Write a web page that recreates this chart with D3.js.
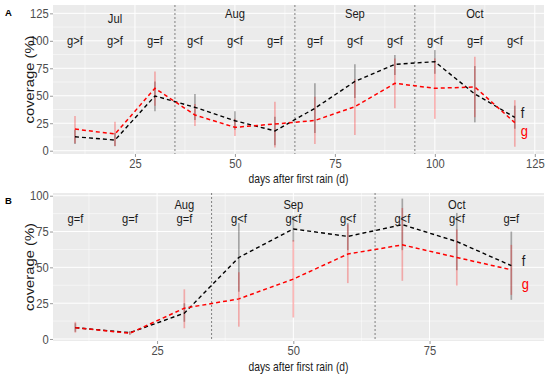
<!DOCTYPE html>
<html>
<head>
<meta charset="utf-8">
<script src="https://cdn.jsdelivr.net/npm/d3@7"></script>
<style>
  body { margin: 0; background: #fff; }
  svg { font-family: "Liberation Sans", Arial, sans-serif; }
</style>
</head>
<body>
<svg id="chart" width="550" height="380"></svg>
<script>
// panel A data
var daysA = [10, 20, 30, 40, 50, 60, 70, 80, 90, 100, 110, 120];
var fA    = [12.7, 9.7, 49.8, 39.5, 27.3, 18, 38.6, 63, 78.6, 81, 51.6, 30.4];
var gA    = [19.7, 15.2, 56.8, 32.5, 21.3, 24.3, 27.5, 40, 61.3, 56.8, 58, 25.5];
var fLoA  = [6, 4, 36, 28, 19, 5, 16, 48, 69, 70, 25.8, 20];
var fHiA  = [19, 16, 63, 51.6, 36, 31, 61.3, 78.6, 87, 91.6, 77, 41];
var gLoA  = [6.7, 4.3, 41, 22.5, 13.4, 3, 6.1, 14.3, 38.6, 29, 30.5, 3.6];
var gHiA  = [31.6, 26.4, 72, 42.5, 29, 44.6, 49, 65, 84, 84, 85.5, 46];
var sigA  = ["g>f", "g>f", "g=f", "g<f", "g<f", "g=f", "g=f", "g<f", "g<f", "g<f", "g=f", "g<f"];
var monthA    = ["Jul", "Aug", "Sep", "Oct"];
var monthDayA = [20, 50, 80, 110];
var monthLvlA = [120.5, 125, 125, 125];
var breaksA   = [35, 65, 95];
var yTicksA   = [0, 25, 50, 75, 100, 125];
var xTicksA   = [25, 50, 75, 100, 125];

// panel B data
var daysB = [10, 20, 30, 40, 50, 60, 70, 80, 90];
var fB    = [7.9, 4.4, 18, 56.9, 76.8, 71.6, 79.8, 68, 51.2];
var gB    = [7.9, 4, 21.5, 28, 41.8, 59.3, 65.7, 56.9, 48.3];
var fLoB  = [5, 3, 12, 33, 68, 62, 62, 48, 27.3];
var fHiB  = [11, 5.5, 25, 81, 86, 81, 98, 88, 75];
var gLoB  = [4.4, 3, 7.5, 8.6, 15, 39, 40.6, 37.3, 30.8];
var gHiB  = [12, 5, 34.7, 46.6, 69, 80, 91.4, 76.5, 65.7];
var sigB  = ["g=f", "g=f", "g=f", "g<f", "g<f", "g<f", "g<f", "g<f", "g=f"];
var monthB    = ["Aug", "Sep", "Oct"];
var monthDayB = [30, 50, 80];
var monthLvlB = [94.2, 94.2, 94.2];
var breaksB   = [35, 65];
var yTicksB   = [0, 25, 50, 75, 100];
var xTicksB   = [25, 50, 75];

var svg = d3.select('#chart');
var SQ = 0.86; // horizontal squeeze of the source image text

function squeezed(sel, x, y) {
  return sel.attr('transform', 'translate(' + x + ',' + y + ') scale(' + SQ + ',1)');
}

function drawPanel(p) {
  var x = d3.scaleLinear().domain(p.xDom).range([p.left, p.right]);
  var y = d3.scaleLinear().domain(p.yDom).range([p.bottom, p.top]);
  var g = svg.append('g');

  // panel background + grid
  g.append('rect').attr('x', p.left).attr('y', p.top)
    .attr('width', p.right - p.left).attr('height', p.bottom - p.top)
    .attr('fill', '#EBEBEB');
  var yMinor = p.yTicks.slice(1).map(function(t) { return t - 12.5; });
  var xMinor = [0].concat(p.xTicks).map(function(t) { return t - 12.5; })
    .filter(function(t) { return t > p.xDom[0] && t < p.xDom[1]; });
  g.selectAll('.ymin').data(yMinor).enter().append('line')
    .attr('x1', p.left).attr('x2', p.right)
    .attr('y1', function(d) { return y(d); }).attr('y2', function(d) { return y(d); })
    .attr('stroke', '#fff').attr('stroke-width', 0.5);
  g.selectAll('.xmin').data(xMinor).enter().append('line')
    .attr('y1', p.top).attr('y2', p.bottom)
    .attr('x1', function(d) { return x(d); }).attr('x2', function(d) { return x(d); })
    .attr('stroke', '#fff').attr('stroke-width', 0.5);
  g.selectAll('.ymaj').data(p.yTicks).enter().append('line')
    .attr('x1', p.left).attr('x2', p.right)
    .attr('y1', function(d) { return y(d); }).attr('y2', function(d) { return y(d); })
    .attr('stroke', '#fff').attr('stroke-width', 1);
  g.selectAll('.xmaj').data(p.xTicks).enter().append('line')
    .attr('y1', p.top).attr('y2', p.bottom)
    .attr('x1', function(d) { return x(d); }).attr('x2', function(d) { return x(d); })
    .attr('stroke', '#fff').attr('stroke-width', 1);

  // month boundaries
  g.selectAll('.brk').data(p.breaks).enter().append('line')
    .attr('y1', p.top).attr('y2', p.bottom)
    .attr('x1', function(d) { return x(d); }).attr('x2', function(d) { return x(d); })
    .attr('stroke', '#7f7f7f').attr('stroke-width', 1).attr('stroke-dasharray', '2,2');

  // axes
  var ax = g.append('g').attr('transform', 'translate(' + p.left + ',0)')
    .call(d3.axisLeft(y).tickValues(p.yTicks).tickSize(3).tickPadding(2));
  var bx = g.append('g').attr('transform', 'translate(0,' + p.bottom + ')')
    .call(d3.axisBottom(x).tickValues(p.xTicks).tickSize(3).tickPadding(2));
  [ax, bx].forEach(function(a) {
    a.select('.domain').remove();
    a.selectAll('.tick line').attr('stroke', '#555').attr('stroke-width', 0.6);
    a.selectAll('.tick text').attr('fill', '#4D4D4D')
      .style('font-size', '13px').attr('transform', 'scale(' + SQ + ',1)');
  });

  // error bars: f first, g on top
  var idx = d3.range(p.days.length);
  g.selectAll('.ef').data(idx).enter().append('line')
    .attr('x1', function(i) { return x(p.days[i]); }).attr('x2', function(i) { return x(p.days[i]); })
    .attr('y1', function(i) { return y(p.fLo[i]); }).attr('y2', function(i) { return y(p.fHi[i]); })
    .attr('stroke', '#000').attr('stroke-opacity', 0.3).attr('stroke-width', 1.7);
  g.selectAll('.eg').data(idx).enter().append('line')
    .attr('x1', function(i) { return x(p.days[i]); }).attr('x2', function(i) { return x(p.days[i]); })
    .attr('y1', function(i) { return y(p.gLo[i]); }).attr('y2', function(i) { return y(p.gHi[i]); })
    .attr('stroke', '#ff0000').attr('stroke-opacity', 0.28).attr('stroke-width', 1.7);

  // mean lines
  var line = d3.line().x(function(i) { return x(p.days[i]); });
  g.append('path').datum(idx)
    .attr('d', line.y(function(i) { return y(p.f[i]); }))
    .attr('fill', 'none').attr('stroke', '#000').attr('stroke-width', 1.4)
    .attr('stroke-dasharray', '4,3');
  g.append('path').datum(idx)
    .attr('d', line.y(function(i) { return y(p.g[i]); }))
    .attr('fill', 'none').attr('stroke', '#ff0000').attr('stroke-width', 1.5)
    .attr('stroke-dasharray', '4,3');

  // comparison + month labels
  g.selectAll('.sig').data(idx).enter().append('text')
    .text(function(i) { return p.sig[i]; })
    .attr('text-anchor', 'middle').attr('dy', '0.35em')
    .style('font-size', '13px').attr('fill', '#1a1a1a')
    .each(function(i) { squeezed(d3.select(this), x(p.days[i]), y(p.sigLvl)); });
  g.selectAll('.mon').data(d3.range(p.months.length)).enter().append('text')
    .text(function(i) { return p.months[i]; })
    .attr('text-anchor', 'middle').attr('dy', '0.35em')
    .style('font-size', '13px').attr('fill', '#1a1a1a')
    .each(function(i) { squeezed(d3.select(this), x(p.monthDays[i]), y(p.monthLvl[i])); });

  // end labels
  squeezed(g.append('text').text('f'), x(p.legX), y(p.fLbl))
    .attr('dy', '0.35em').style('font-size', '15px').attr('fill', '#1a1a1a');
  squeezed(g.append('text').text('g'), x(p.legX), y(p.gLbl))
    .attr('dy', '0.35em').style('font-size', '15px').attr('fill', '#ff0000');

  // titles
  var cx = (p.left + p.right) / 2, cy = (p.top + p.bottom) / 2;
  g.append('text').text('days after first rain (d)')
    .attr('x', cx).attr('y', p.xTitleY).attr('text-anchor', 'middle')
    .attr('dy', '0.35em').style('font-size', '13.5px').attr('fill', '#1a1a1a')
    .attr('textLength', 100).attr('lengthAdjust', 'spacingAndGlyphs');
  g.append('text').text('coverage (%)')
    .attr('transform', 'translate(29,' + cy + ') rotate(-90)')
    .attr('text-anchor', 'middle').attr('dy', '0.35em')
    .style('font-size', '13px').attr('fill', '#1a1a1a')
    .attr('textLength', 88).attr('lengthAdjust', 'spacingAndGlyphs');
  g.append('text').text(p.tag)
    .attr('x', 5).attr('y', p.top + 11)
    .style('font-size', '9.5px').style('font-weight', 'bold');
}

drawPanel({
  tag: 'A', left: 53, right: 544, top: 5, bottom: 154,
  xDom: [4.5, 127.3], yDom: [-3, 132.6],
  days: daysA, f: fA, g: gA, fLo: fLoA, fHi: fHiA, gLo: gLoA, gHi: gHiA,
  sig: sigA, sigLvl: 100, months: monthA, monthDays: monthDayA, monthLvl: monthLvlA,
  breaks: breaksA, yTicks: yTicksA, xTicks: xTicksA,
  legX: 121.5, fLbl: 34.6, gLbl: 18.2, xTitleY: 178
});

drawPanel({
  tag: 'B', left: 53, right: 544, top: 193, bottom: 341,
  xDom: [5.9, 96], yDom: [-1.4, 101.9],
  days: daysB, f: fB, g: gB, fLo: fLoB, fHi: fHiB, gLo: gLoB, gHi: gHiB,
  sig: sigB, sigLvl: 84.4, months: monthB, monthDays: monthDayB, monthLvl: monthLvlB,
  breaks: breaksB, yTicks: yTicksB, xTicks: xTicksB,
  legX: 91.9, fLbl: 54.5, gLbl: 38.4, xTitleY: 366
});
</script>
</body>
</html>
